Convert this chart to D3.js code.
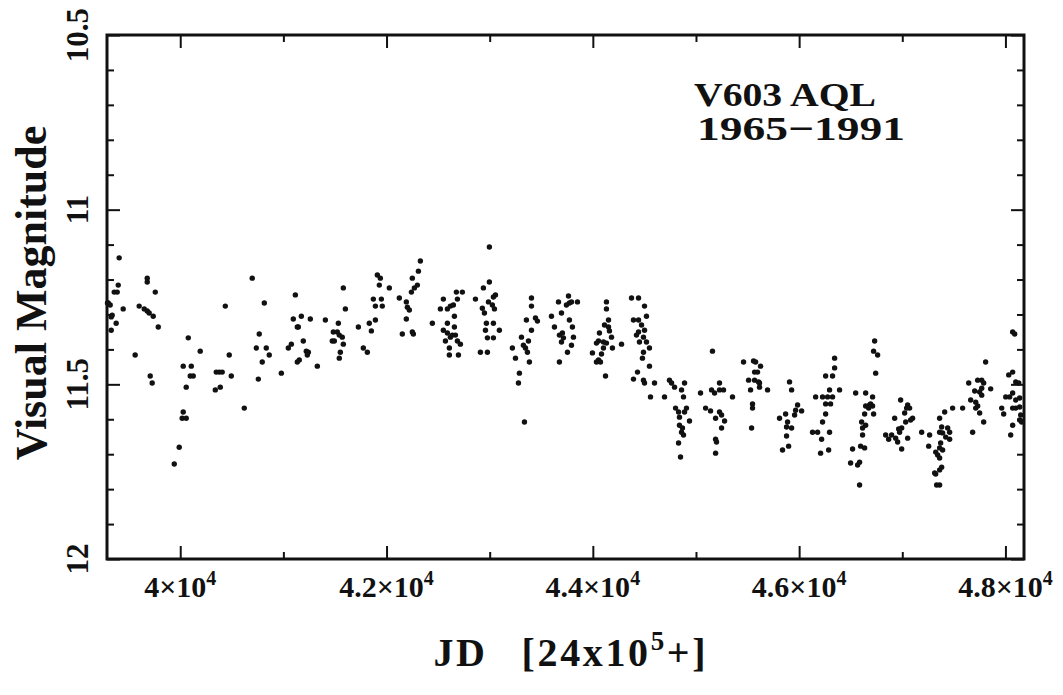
<!DOCTYPE html>
<html>
<head>
<meta charset="utf-8">
<script src="https://cdn.jsdelivr.net/npm/d3@7"></script>
<style>
  body { margin: 0; background: #fff; }
  svg text { font-family: "Liberation Serif", serif; font-weight: bold; fill: #111; }
  .axis path { display: none; }
  .axis line { stroke: #111; stroke-width: 2; }
</style>
</head>
<body>
<svg id="chart" width="1063" height="695"></svg>
<script>
// V603 Aql visual light curve, JD - 2400000 vs. visual magnitude
var obs = [
  [39408,11.138],[39399,11.216],[39360,11.236],[39389,11.236],[39302,11.267],[39321,11.273],[39295,11.267],
  [39340,11.302],[39331,11.307],[39379,11.325],[39331,11.345],[39447,11.284],[39563,11.416],[39602,11.276],
  [39680,11.196],[39680,11.207],[39651,11.284],[39680,11.290],[39699,11.296],[39738,11.305],[39758,11.236],
  [39787,11.336],[39709,11.476],[39728,11.496],[39942,11.728],[39990,11.680],[40029,11.579],[40019,11.597],
  [40058,11.597],[40058,11.508],[40029,11.448],[40107,11.448],[40097,11.476],[40126,11.476],[40078,11.367],
  [40194,11.405],[40349,11.465],[40378,11.465],[40407,11.465],[40340,11.516],[40388,11.508],[40437,11.276],
  [40475,11.416],[40495,11.476],[40621,11.568],[40698,11.196],[40737,11.396],[40766,11.356],[40815,11.267],
  [40834,11.396],[40863,11.416],[40795,11.436],[40757,11.485],[40980,11.468],[41048,11.396],[41077,11.385],
  [41116,11.244],[41096,11.313],[41135,11.336],[41145,11.336],[41174,11.305],[41261,11.313],[41193,11.376],
  [41222,11.405],[41242,11.408],[41232,11.416],[41154,11.430],[41135,11.436],[41329,11.448],[41407,11.316],
  [41484,11.350],[41523,11.350],[41542,11.359],[41571,11.365],[41474,11.376],[41494,11.376],[41581,11.385],
  [41552,11.408],[41542,11.425],[41533,11.325],[41581,11.224],[41601,11.284],[41727,11.336],[41775,11.396],
  [41814,11.408],[41833,11.325],[41853,11.347],[41892,11.316],[41872,11.256],[41950,11.256],[41892,11.276],
  [41959,11.276],[41911,11.187],[41940,11.196],[41930,11.216],[42027,11.224],[42124,11.253],[42192,11.264],
  [42202,11.279],[42221,11.287],[42192,11.313],[42153,11.356],[42250,11.350],[42260,11.356],[42250,11.196],
  [42309,11.176],[42328,11.147],[42241,11.236],[42270,11.224],[42299,11.216],[42444,11.325],[42551,11.256],
  [42522,11.284],[42590,11.284],[42619,11.276],[42648,11.273],[42677,11.236],[42735,11.236],[42687,11.256],
  [42658,11.305],[42590,11.325],[42658,11.336],[42551,11.345],[42590,11.353],[42638,11.359],[42619,11.365],
  [42668,11.359],[42571,11.376],[42687,11.376],[42716,11.385],[42609,11.396],[42609,11.416],[42697,11.416],
  [42862,11.256],[42997,11.107],[42997,11.207],[42939,11.224],[43056,11.244],[43036,11.250],[42988,11.264],
  [43026,11.273],[42929,11.282],[42949,11.296],[43046,11.284],[42968,11.325],[43036,11.325],[42959,11.345],
  [43094,11.345],[42978,11.367],[43036,11.367],[42910,11.408],[42978,11.408],[43405,11.253],[43405,11.276],
  [43356,11.316],[43444,11.310],[43463,11.319],[43405,11.345],[43308,11.365],[43376,11.376],[43327,11.388],
  [43347,11.396],[43366,11.408],[43220,11.396],[43250,11.425],[43385,11.436],[43288,11.468],[43279,11.496],
  [43337,11.608],[43599,11.305],[43628,11.336],
  [43667,11.264],[43696,11.296],[43764,11.247],[43744,11.273],[43773,11.267],[43793,11.264],[43851,11.264],
  [43773,11.316],[43802,11.336],[43676,11.359],[43705,11.353],[43715,11.367],[43696,11.379],[43812,11.365],
  [43793,11.388],[43754,11.408],[43676,11.436],[44132,11.264],[44132,11.284],[44152,11.316],[44113,11.330],
  [44152,11.336],[44064,11.353],[44161,11.347],[44181,11.365],[44055,11.376],[44035,11.382],[44103,11.379],
  [44132,11.382],[44103,11.396],[44190,11.396],[43996,11.410],[44084,11.413],[44055,11.430],[44074,11.436],
  [44035,11.436],[44123,11.476],[44278,11.385],[44375,11.253],[44443,11.253],[44501,11.276],[44394,11.316],
  [44443,11.316],[44520,11.305],[44472,11.330],[44501,11.345],[44443,11.350],[44491,11.365],[44423,11.359],
  [44452,11.379],[44520,11.379],[44549,11.396],[44491,11.408],[44481,11.425],[44549,11.448],[44433,11.465],
  [44394,11.485],[44491,11.488],[44501,11.496],[44598,11.496],[44559,11.536],[44743,11.488],[44763,11.496],
  [44695,11.536],[44792,11.508],[44889,11.496],[44860,11.516],[44879,11.536],[44802,11.568],[44831,11.579],
  [44840,11.594],[44908,11.568],[44889,11.579],[44937,11.605],[44840,11.617],[44869,11.625],[44860,11.637],
  [44879,11.645],[44831,11.668],[44850,11.708],[45044,11.525],[45160,11.405],[45151,11.516],[45180,11.525],
  [45228,11.496],[45228,11.516],[45267,11.516],[45093,11.568],[45141,11.576],[45228,11.579],[45248,11.588],
  [45190,11.597],[45277,11.605],[45248,11.625],[45190,11.657],[45199,11.665],[45190,11.697],[45354,11.536],
  [45461,11.436],[45558,11.433],[45578,11.436],[45626,11.448],[45568,11.465],[45597,11.465],[45510,11.488],
  [45568,11.488],[45607,11.493],[45616,11.496],[45616,11.508],[45529,11.516],[45694,11.516],[45548,11.556],
  [45548,11.568],[45539,11.625],[45810,11.597],
  [45907,11.493],[45927,11.516],[45869,11.585],[45888,11.608],[45878,11.622],[45927,11.625],[45956,11.588],
  [45966,11.574],[45985,11.559],[46024,11.576],[45878,11.648],[45898,11.677],[45839,11.688],[46160,11.536],
  [46257,11.476],[46324,11.476],[46344,11.453],[46344,11.425],[46295,11.516],[46392,11.516],[46227,11.536],
  [46276,11.536],[46324,11.536],[46305,11.556],[46257,11.556],[46257,11.585],[46227,11.608],[46130,11.637],
  [46179,11.637],[46295,11.637],[46218,11.657],[46286,11.688],[46208,11.697],[46732,11.376],[46722,11.405],
  [46761,11.416],[46742,11.468],[46548,11.525],[46645,11.525],[46712,11.536],[46645,11.562],[46683,11.559],
  [46693,11.556],[46712,11.562],[46674,11.568],[46635,11.585],[46722,11.585],[46606,11.608],[46645,11.617],
  [46615,11.625],[46615,11.645],[46596,11.677],[46635,11.682],[46518,11.685],[46586,11.723],[46567,11.731],
  [46499,11.725],[46586,11.788],[46984,11.545],[47052,11.559],[47071,11.568],[47042,11.568],[47023,11.582],
  [47100,11.597],[47081,11.602],[46926,11.597],[47033,11.608],[46994,11.625],[46965,11.628],[46974,11.637],
  [47052,11.654],[46839,11.645],[46897,11.645],[46868,11.657],[46936,11.654],[46955,11.665],[46994,11.685],
  [47188,11.637],[47265,11.645],[47256,11.677],[47362,11.597],[47411,11.579],[47382,11.622],[47362,11.637],
  [47391,11.639],[47440,11.625],[47459,11.637],[47421,11.651],[47459,11.657],[47372,11.668],[47362,11.682],
  [47391,11.688],[47324,11.694],[47343,11.702],[47362,11.711],[47382,11.737],[47362,11.745],[47314,11.754],
  [47324,11.757],[47333,11.788],[47362,11.788],[47488,11.568],[47585,11.568],[47644,11.496],[47731,11.488],
  [47770,11.488],[47789,11.496],[47702,11.519],[47770,11.511],[47857,11.513],[47750,11.522],[47770,11.531],
  [47808,11.436],[47663,11.545],[47712,11.551],[47731,11.562],[47682,11.637],[47712,11.568],[47750,11.582],
  [47789,11.608],[48070,11.350],[48090,11.356],[48070,11.465],[48032,11.473],[48100,11.493],[48129,11.496],
  [48003,11.536],[48041,11.536],[48070,11.525],[48100,11.545],[48138,11.539],[47964,11.568],[47983,11.585],
  [48070,11.568],[48100,11.568],[48138,11.565],[48148,11.588],[48138,11.602],[48157,11.608],[48070,11.617],
  [48051,11.645]
];

var xMajor = [40000, 42000, 44000, 46000, 48000];
var xMinor = [41000, 43000, 45000, 47000];
var xTickLabels = ["4\u00d710", "4.2\u00d710", "4.4\u00d710", "4.6\u00d710", "4.8\u00d710"];
var xTickExp = "4";
var yMajor = [10.5, 11, 11.5, 12];
var yMinor = [10.6, 10.7, 10.8, 10.9, 11.1, 11.2, 11.3, 11.4, 11.6, 11.7, 11.8, 11.9];
var yTickLabels = ["10.5", "11", "11.5", "12"];
var titleLines = ["V603 AQL", "1965\u22121991"];

var svg = d3.select("#chart");

var x = d3.scaleLinear().domain([39290, 48180]).range([107, 1024]);
var y = d3.scaleLinear().domain([10.5, 12]).range([35, 559]);

// note: "top" is taken by window.top, so use other names
var pLeft = x.range()[0], pRight = x.range()[1], pTop = y.range()[0], pBottom = y.range()[1];

// ticks on all four sides, pointing inward
function ticks(axisFn, scale, vals, len, tr) {
  svg.append("g")
    .attr("class", "axis")
    .attr("transform", tr)
    .call(axisFn(scale).tickValues(vals).tickSize(-len).tickFormat(""));
}
ticks(d3.axisBottom, x, xMajor, 13, "translate(0," + pBottom + ")");
ticks(d3.axisBottom, x, xMinor, 7, "translate(0," + pBottom + ")");
ticks(d3.axisTop, x, xMajor, 13, "translate(0," + pTop + ")");
ticks(d3.axisTop, x, xMinor, 7, "translate(0," + pTop + ")");
ticks(d3.axisLeft, y, yMajor, 13, "translate(" + pLeft + ",0)");
ticks(d3.axisLeft, y, yMinor, 7, "translate(" + pLeft + ",0)");
ticks(d3.axisRight, y, yMajor, 13, "translate(" + pRight + ",0)");
ticks(d3.axisRight, y, yMinor, 7, "translate(" + pRight + ",0)");

// frame
svg.append("rect")
  .attr("x", pLeft).attr("y", pTop)
  .attr("width", pRight - pLeft).attr("height", pBottom - pTop)
  .attr("fill", "none").attr("stroke", "#111").attr("stroke-width", 3);

// points
svg.append("g")
  .selectAll("circle")
  .data(obs)
  .join("circle")
  .attr("cx", d => x(d[0]))
  .attr("cy", d => y(d[1]))
  .attr("r", 2.7)
  .attr("fill", "#111");

// x tick labels  (mantissa x 10^4)
var xl = svg.append("g").selectAll("text")
  .data(xMajor)
  .join("text")
  .attr("x", d => x(d))
  .attr("y", pBottom + 38)
  .attr("text-anchor", "middle")
  .style("font-size", "30px");
xl.append("tspan").text((d, i) => xTickLabels[i]);
xl.append("tspan").attr("dy", -12).style("font-size", "20px").text(xTickExp);

// y tick labels, rotated
svg.append("g").selectAll("text")
  .data(yMajor)
  .join("text")
  .attr("transform", d => "translate(" + (pLeft - 19) + "," + y(d) + ") rotate(-90)")
  .attr("text-anchor", "middle")
  .style("font-size", "31px")
  .text((d, i) => yTickLabels[i]);

// axis titles
svg.append("text")
  .attr("transform", "translate(46," + ((pTop + pBottom) / 2 - 4) + ") rotate(-90)")
  .attr("text-anchor", "middle")
  .style("font-size", "44px")
  .text("Visual Magnitude");

var xt = svg.append("text")
  .attr("x", (pLeft + pRight) / 2 + 4)
  .attr("y", 666)
  .attr("text-anchor", "middle")
  .attr("textLength", 272)
  .attr("lengthAdjust", "spacing")
  .style("font-size", "40px");
xt.append("tspan").text("JD");
xt.append("tspan").attr("dx", 34).text("[24x10");
xt.append("tspan").attr("dy", -16).style("font-size", "27px").text("5");
xt.append("tspan").attr("dy", 16).text("+]");

// star label
svg.append("g").selectAll("text")
  .data(titleLines)
  .join("text")
  .attr("x", (d, i) => i ? 697 : 694)
  .attr("y", (d, i) => 106 + i * 34)
  .attr("textLength", (d, i) => i ? 208 : 182)
  .attr("lengthAdjust", "spacingAndGlyphs")
  .style("font-size", "34px")
  .text(d => d);
</script>
</body>
</html>
